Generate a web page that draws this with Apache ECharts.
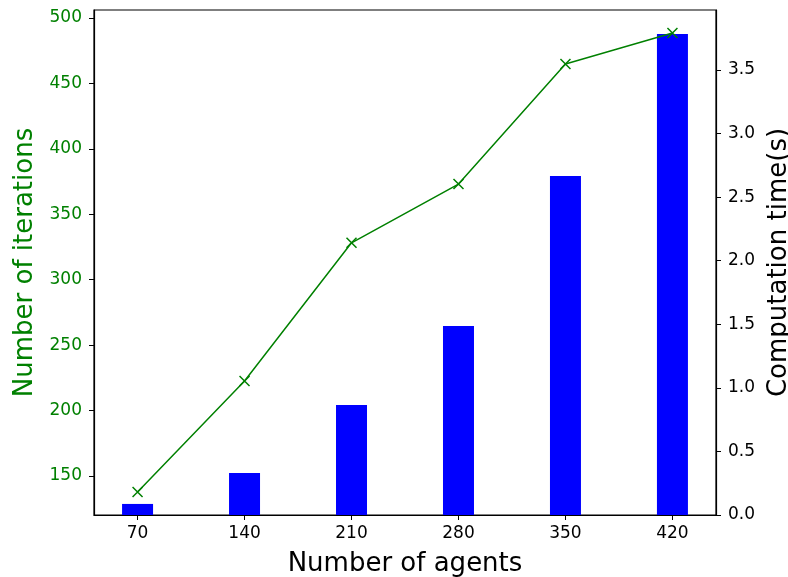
<!DOCTYPE html>
<html>
<head>
<meta charset="utf-8">
<script src="https://cdn.jsdelivr.net/npm/echarts@6/dist/echarts.min.js"></script>
<style>
  html, body { margin: 0; padding: 0; background: #fff; }
  #main { width: 788px; height: 577px; }
</style>
</head>
<body>
<div id="main"></div>
<script>
// data
var agents = [70, 140, 210, 280, 350, 420];
var iterations = [137.8, 222.6, 328.2, 373.1, 464.9, 488.5];
var compTime = [0.087, 0.33, 0.865, 1.487, 2.666, 3.783];
var iterTicks = [150, 200, 250, 300, 350, 400, 450, 500];
var timeTicks = [0, 0.5, 1, 1.5, 2, 2.5, 3, 3.5];

var chart = echarts.init(document.getElementById('main'));
var font = 'DejaVu Sans';
var crossPath = 'path://M0,0L10,10M10,0L0,10';

var option = {
  backgroundColor: '#ffffff',
  animation: false,
  textStyle: { fontFamily: font },
  grid: {
    left: 94, right: 72, top: 10, bottom: 62,
    outerBoundsMode: 'none',
    containLabel: false,
    show: true, borderColor: '#000', borderWidth: 1.2,
    backgroundColor: 'transparent'
  },
  xAxis: {
    type: 'value',
    min: 41.5,
    max: 448.5,
    name: 'Number of agents',
    nameLocation: 'middle',
    nameGap: 36,
    nameTextStyle: { fontSize: 26, color: '#000', fontFamily: font },
    splitLine: { show: false },
    axisLine: { show: true, onZero: false, lineStyle: { color: '#000', width: 1.2 } },
    axisTick: { show: true, length: 5, customValues: agents, lineStyle: { color: '#000' } },
    axisLabel: { customValues: agents, fontSize: 17, color: '#000', margin: 10, fontFamily: font }
  },
  yAxis: [{
    type: 'value',
    min: 120.2,
    max: 506.1,
    position: 'left',
    name: 'Number of iterations',
    nameLocation: 'middle',
    nameGap: 51,
    nameRotate: 90,
    nameTextStyle: { fontSize: 26, color: '#008000', fontFamily: font },
    splitLine: { show: false },
    axisLine: { show: true, lineStyle: { color: '#000', width: 1.2 } },
    axisTick: { show: true, length: 5, customValues: iterTicks, lineStyle: { color: '#000' } },
    axisLabel: { customValues: iterTicks, fontSize: 17, color: '#008000', margin: 12, fontFamily: font }
  }, {
    type: 'value',
    min: 0,
    max: 3.972,
    position: 'right',
    name: 'Computation time(s)',
    nameLocation: 'middle',
    nameGap: 49,
    nameRotate: 90,
    nameTextStyle: { fontSize: 26, color: '#000', fontFamily: font },
    splitLine: { show: false },
    axisLine: { show: true, lineStyle: { color: '#000', width: 1.2 } },
    axisTick: { show: true, length: 5, customValues: timeTicks, lineStyle: { color: '#000' } },
    axisLabel: {
      customValues: timeTicks, fontSize: 17, color: '#000', margin: 12, fontFamily: font,
      formatter: function (v) { return v.toFixed(1); }
    }
  }],
  series: [{
    type: 'bar',
    yAxisIndex: 1,
    barWidth: 31,
    itemStyle: { color: '#0000ff' },
    data: agents.map(function (a, i) { return [a, compTime[i]]; }),
    z: 2
  }, {
    type: 'line',
    yAxisIndex: 0,
    symbol: crossPath,
    symbolSize: 10,
    showAllSymbol: true,
    lineStyle: { color: '#008000', width: 1.5 },
    itemStyle: { color: 'transparent', borderColor: '#008000', borderWidth: 1.5 },
    data: agents.map(function (a, i) { return [a, iterations[i]]; }),
    z: 3
  }]
};
chart.setOption(option);
</script>
</body>
</html>
